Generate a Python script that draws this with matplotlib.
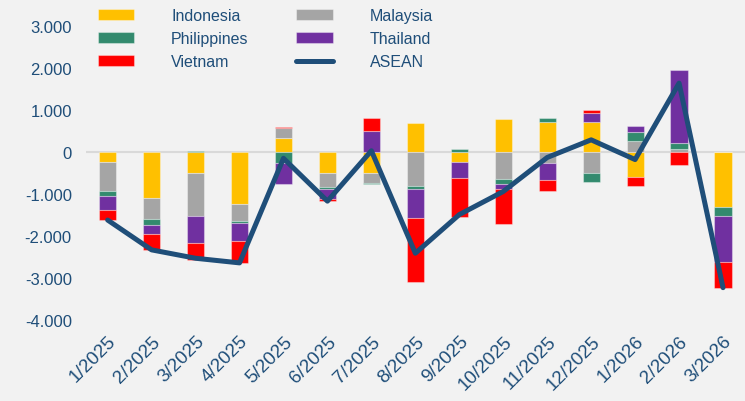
import numpy as np
import matplotlib
matplotlib.use("Agg")
from matplotlib import pyplot as plt
from matplotlib.ticker import FuncFormatter

months = ["1/2025", "2/2025", "3/2025", "4/2025", "5/2025", "6/2025", "7/2025",
          "8/2025", "9/2025", "10/2025", "11/2025", "12/2025", "1/2026", "2/2026", "3/2026"]

indonesia = [-240, -1100, -490, -1230, 330, -510, -510, 680, -240, 780, 720, 720, -590, 0, -1300]
malaysia = [-690, -500, -1040, -410, 240, -320, -230, -810, 0, -650, -270, -510, 260, 60, 0]
philippines = [-120, -140, 30, -60, -250, -50, -30, -80, 60, -110, 80, -200, 220, 150, -220]
thailand = [-320, -210, -640, -430, -500, -240, 500, -670, -370, -130, -400, 200, 140, 1740, -1110]
vietnam = [-250, -380, -390, -510, 30, -50, 300, -1530, -940, -830, -260, 80, -210, -310, -600]
asean = [-1620, -2330, -2530, -2640, -150, -1170, 30, -2410, -1490, -940, -130, 290, -180, 1640, -3230]

blue = "#1F4E79"
bg = "#F2F2F2"

plt.rcParams["font.family"] = ["Liberation Sans", "DejaVu Sans"]

fig = plt.figure(figsize=(7.45, 4.02), dpi=100, facecolor=bg)
ax = fig.add_axes([0.115, 0.2015, 0.885, 0.7835])
ax.set_facecolor(bg)

x = np.arange(len(months))
series = [("Indonesia", indonesia, "#FFC000"),
          ("Malaysia", malaysia, "#A5A5A5"),
          ("Philippines", philippines, "#338A6E"),
          ("Thailand", thailand, "#7030A0"),
          ("Vietnam", vietnam, "#FF0000")]

ax.axhline(0, color="#D9D9D9", lw=1.5, zorder=1)

pos_bottom = np.zeros(len(months))
neg_bottom = np.zeros(len(months))
handles = {}
for name, vals, col in series:
    v = np.array(vals, dtype=float)
    bottom = np.where(v >= 0, pos_bottom, neg_bottom)
    b = ax.bar(x, v, 0.39, bottom=bottom, color=col, edgecolor=(1, 1, 1, 0.35),
               linewidth=0.8, zorder=2, label=name)
    handles[name] = b
    pos_bottom += np.where(v > 0, v, 0)
    neg_bottom += np.where(v < 0, v, 0)

line, = ax.plot(x, asean, color=blue, lw=3.6, solid_joinstyle="round",
                solid_capstyle="round", zorder=3, label="ASEAN")

ax.set_xlim(-0.5, len(months) - 0.5)
ax.set_ylim(-4000, 3500)
ax.set_yticks(np.arange(-4000, 3001, 1000))
ax.yaxis.set_major_formatter(FuncFormatter(lambda v, p: "{:,.0f}".format(v).replace(",", ".")))
ax.set_xticks(x)
ax.set_xticklabels(months, rotation=45, ha="right", rotation_mode="anchor")
ax.tick_params(axis="both", length=0, labelcolor=blue)
ax.tick_params(axis="x", pad=9, labelsize=13.5)
ax.tick_params(axis="y", pad=10, labelsize=12)
for s in ax.spines.values():
    s.set_visible(False)

order = ["Indonesia", "Philippines", "Vietnam", "Malaysia", "Thailand"]
h = [handles[n] for n in order] + [line]
labels = order + ["ASEAN"]
leg = ax.legend(h, labels, ncol=2, loc="upper left", bbox_to_anchor=(0.018, 0.99),
                frameon=False, fontsize=11.5, handlelength=2.3, handleheight=0.65,
                handletextpad=2.3, columnspacing=3.0, labelspacing=0.5,
                borderpad=0, borderaxespad=0)
for t in leg.get_texts():
    t.set_color(blue)

fig.savefig("out.png", dpi=100, facecolor=bg)
